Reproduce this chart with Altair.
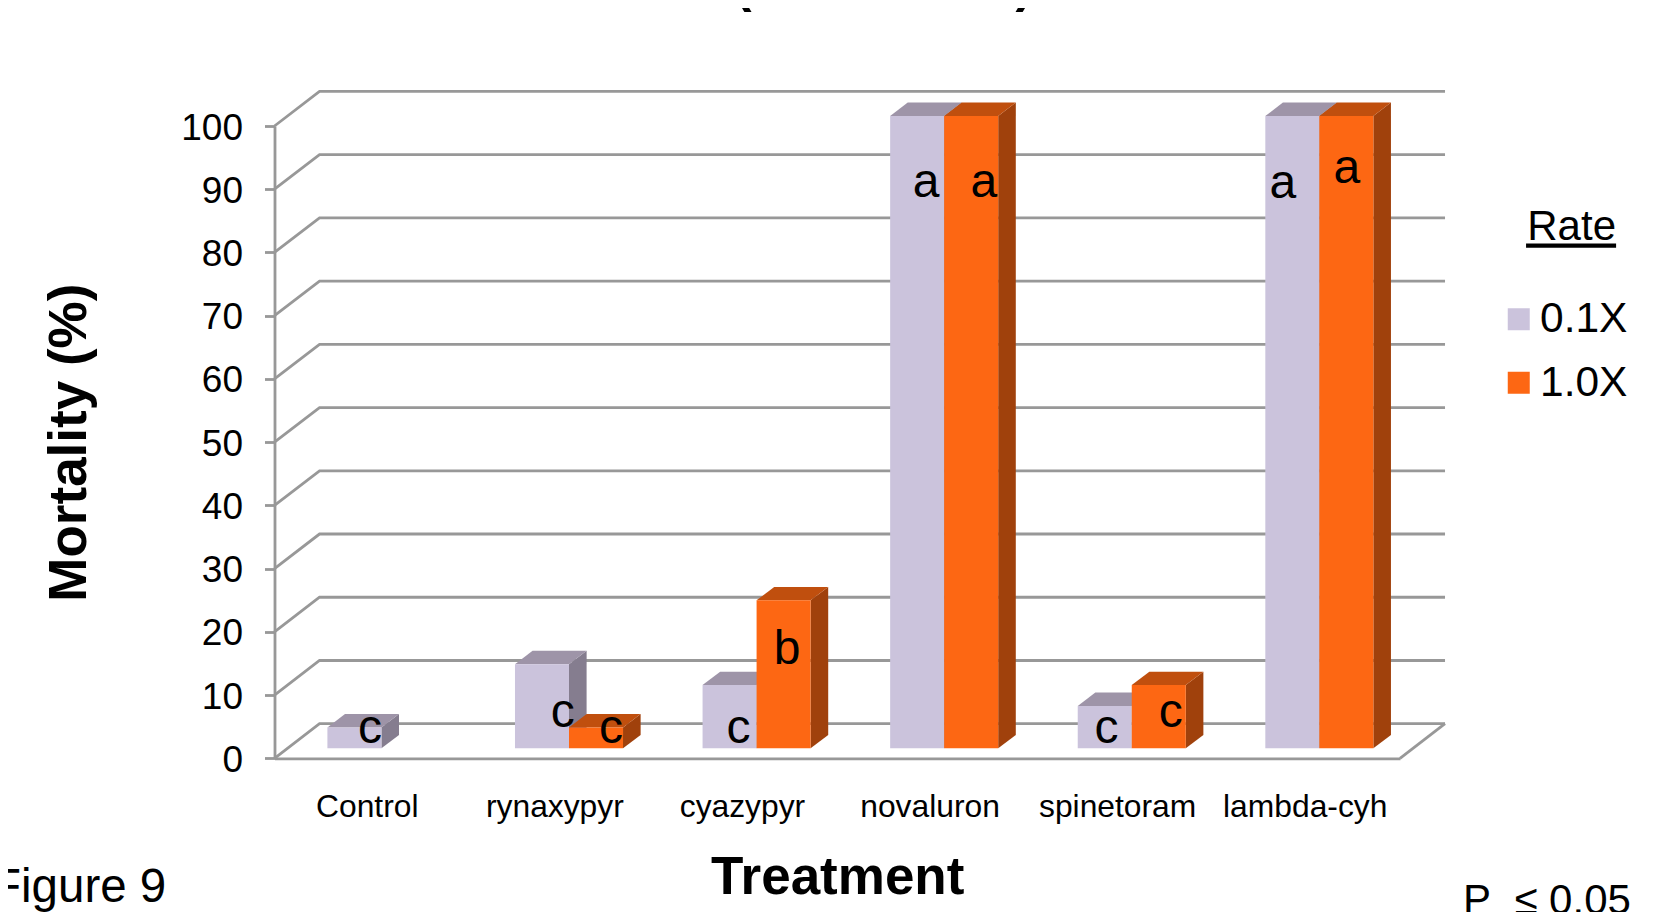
import json
import altair as alt
import pandas as pd

# ---- chart values -------------------------------------------------------
TREATMENTS = ["Control", "rynaxypyr", "cyazypyr", "novaluron", "spinetoram", "lambda-cyh"]
RATES = ["0.1X", "1.0X"]
RATE_LOW = [3.3, 13.3, 10.0, 100.0, 6.7, 100.0]
RATE_HIGH = [0.0, 3.3, 23.4, 100.0, 10.0, 100.0]
Y_TICKS = [0, 10, 20, 30, 40, 50, 60, 70, 80, 90, 100]
LETTERS = ["c", "c", "c", "c", "b", "a", "a", "c", "c", "a", "a"]
LETTER_X = [0.509, 1.536, 1.794, 2.474, 2.732, 3.473, 3.782, 4.435, 4.778, 5.375, 5.716]
LETTER_Y = [2.4, 4.9, 2.4, 2.4, 14.9, 88.8, 88.8, 2.4, 4.9, 88.6, 91.0]

# ---- styling ------------------------------------------------------------
FONT = "Liberation Sans"
GRID = "#989898"
FRONT = {"0.1X": "#cbc3dc", "1.0X": "#fd6713"}
TOP = {"0.1X": "#9e94a8", "1.0X": "#c04f0e"}
SIDE = {"0.1X": "#857d8f", "1.0X": "#a0410c"}

# 3-D construction, in axis units
WALL_DX, WALL_DY = 0.24, 5.47      # depth of the floor / back wall
BAR_DX, BAR_DY = 0.0938, 2.12      # depth of a column
BAR_W = 0.288                      # column width
BAR_BASE = 1.58                    # lift of the column base on the floor
GROUP_SHIFT = 0.57                 # centre of a pair within its category

W, H = 1125.5, 632.3
X = alt.Scale(domain=[0, 6], range=[0, W], nice=False, zero=False)
Y = alt.Scale(domain=[0, 100], range=[H, 0], nice=False, zero=False)

AX_X = alt.Axis(
    values=[i + 0.5 for i in range(len(TREATMENTS))],
    labelExpr=json.dumps(TREATMENTS) + "[floor(datum.value)]",
    title="Treatment", titleFont=FONT, titleFontSize=53, titleFontWeight="bold",
    titleColor="black", titlePadding=28,
    labelFont=FONT, labelFontSize=31.8, labelColor="black", labelPadding=33, labelOffset=-1.5,
    labelOverlap=False, labelFlush=False, labelAngle=0,
    ticks=False, domainColor=GRID, domainWidth=2.8, grid=False,
)
AX_Y = alt.Axis(
    values=Y_TICKS,
    title="Mortality (%)", titleFont=FONT, titleFontSize=53, titleFontWeight="bold",
    titleColor="black", titlePadding=84,
    labelFont=FONT, labelFontSize=37, labelColor="black", labelPadding=22, labelOffset=2,
    labelOverlap=False, labelFlush=False,
    tickSize=10, tickColor=GRID, tickWidth=2.8,
    domainColor=GRID, domainWidth=2.8, grid=False,
)


def qx(field="x"):
    return alt.X(f"{field}:Q", scale=X, axis=AX_X)


def qy(field="y"):
    return alt.Y(f"{field}:Q", scale=Y, axis=AX_Y)


# ---- grid on the side and back walls -----------------------------------
grid_rows = []
for v in Y_TICKS:
    grid_rows += [
        {"g": f"h{v}", "o": 0, "x": 0, "y": v},
        {"g": f"h{v}", "o": 1, "x": WALL_DX, "y": v + WALL_DY},
        {"g": f"h{v}", "o": 2, "x": 6 + WALL_DX, "y": v + WALL_DY},
    ]
grid_rows += [
    {"g": "floor", "o": 0, "x": 6, "y": 0},
    {"g": "floor", "o": 1, "x": 6 + WALL_DX, "y": WALL_DY},
]
grid = alt.Chart(pd.DataFrame(grid_rows)).mark_line(
    color=GRID, strokeWidth=2.8
).encode(x=qx(), y=qy(), detail="g:N", order="o:Q")


# ---- columns ------------------------------------------------------------
def column_frames(rate, values, offset):
    front, side, top = [], [], []
    for i, v in enumerate(values):
        if v <= 0:
            continue
        x0 = i + GROUP_SHIFT + offset
        x1 = x0 + BAR_W
        y0, y1 = BAR_BASE, BAR_BASE + v
        front.append({"rate": rate, "x": x0, "x2": x1, "y": y0, "y2": y1})
        side += [
            {"k": i, "o": 0, "x": x1, "y": y0, "y2": y1},
            {"k": i, "o": 1, "x": x1 + BAR_DX, "y": y0 + BAR_DY, "y2": y1 + BAR_DY},
        ]
        top += [
            {"k": i, "o": 0, "x": x0, "y": y1},
            {"k": i, "o": 1, "x": x1, "y": y1},
            {"k": i, "o": 2, "x": x1 + BAR_DX, "y": y1 + BAR_DY},
            {"k": i, "o": 3, "x": x0 + BAR_DX, "y": y1 + BAR_DY},
        ]
    return [pd.DataFrame(f) for f in (front, side, top)]


def column_layers(rate, values, offset):
    front, side, top = column_frames(rate, values, offset)
    side_l = alt.Chart(side).mark_area(color=SIDE[rate], opacity=1).encode(
        x=qx(), y=qy(), y2="y2:Q", detail="k:N"
    )
    top_l = alt.Chart(top).mark_line(fill=TOP[rate], filled=True, strokeWidth=0).encode(
        x=qx(), y=qy(), detail="k:N", order="o:Q"
    )
    front_l = alt.Chart(front).mark_bar().encode(
        x=qx(), x2="x2:Q", y=qy(), y2="y2:Q",
        color=alt.Color(
            "rate:N",
            scale=alt.Scale(domain=RATES, range=[FRONT[r] for r in RATES]),
            legend=alt.Legend(
                title=None, orient="none", legendX=1223, legendY=172,
                symbolType="square", symbolSize=484, symbolStrokeWidth=0, symbolOpacity=1,
                labelFont=FONT, labelFontSize=42.5, labelColor="black", labelOffset=0,
                rowPadding=20.5, padding=0,
            ),
        ),
    )
    return [side_l, top_l, front_l]


# ---- texts --------------------------------------------------------------
letters = alt.Chart(pd.DataFrame({"t": LETTERS, "x": LETTER_X, "y": LETTER_Y})).mark_text(
    font=FONT, fontSize=48, color="black", align="center", baseline="alphabetic"
).encode(x=qx(), y=qy(), text="t:N")


def note(text, x, y, size, align="left", weight="normal"):
    return alt.Chart(pd.DataFrame({"t": [text], "x": [x], "y": [y]})).mark_text(
        font=FONT, fontSize=size, fontWeight=weight, color="black",
        align=align, baseline="alphabetic",
    ).encode(x=qx(), y=qy(), text="t:N")


notes = [
    note("Rate", 6.915, 81.9, 42, "center"),
    note("Figure 9", -1.506, -22.7, 47.5),
    note("P\u00a0\u00a0\u2264 0.05", 6.336, -24.6, 42),
    note("(", 2.497, 119.8, 52, "center", "bold"),
    note(")", 3.996, 119.8, 52, "center", "bold"),
]
underline = alt.Chart(pd.DataFrame({"x": [6.672], "x2": [7.152], "y": [81.07]})).mark_rule(
    color="black", strokeWidth=4.3
).encode(x=qx(), x2="x2:Q", y=qy())

layers = [grid]
layers += column_layers("0.1X", RATE_LOW, -BAR_W)
layers += column_layers("1.0X", RATE_HIGH, 0.0)
layers += [letters, underline] + notes

chart = alt.layer(*layers).properties(
    width=W,
    height=H,
    background="white",
    padding={"left": 266.5, "top": 118, "right": 1637 - 266.5 - W, "bottom": 904 - 118 - H},
    autosize=alt.AutoSizeParams(type="none"),
).configure_view(stroke=None)

chart.save("out.html", embed_options={"renderer": "svg", "actions": False})
